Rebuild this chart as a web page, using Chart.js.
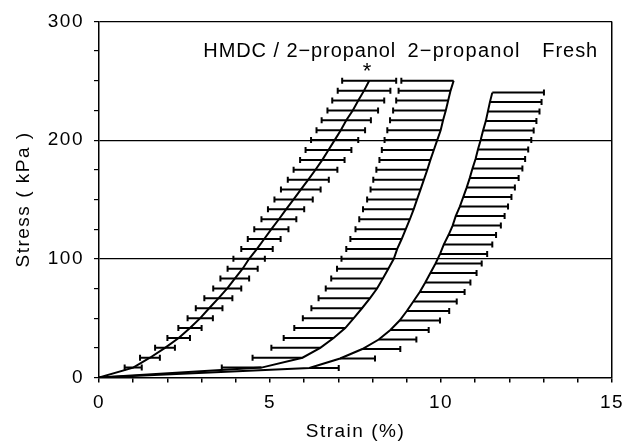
<!DOCTYPE html>
<html lang="en">
<head>
  <meta charset="UTF-8">
  <title>Stress - strain</title>
  <script src="https://cdn.jsdelivr.net/npm/chart.js"></script>
  <style>
    html, body { margin: 0; padding: 0; background: #fff; }
    #wrap { width: 635px; height: 443px; }
  </style>
</head>
<body>
<div id="wrap"><canvas id="grafico"></canvas></div>

<script>
  // HMDC / 2-propanol : symmetric horizontal error bars
  const hmdcStress = [0, 8.33, 16.67, 25, 33.33, 41.67, 50, 58.33, 66.67, 75, 83.33, 91.67, 100, 108.33, 116.67, 125,
    133.33, 141.67, 150, 158.33, 166.67, 175, 183.33, 191.67, 200, 208.33, 216.67, 225, 233.33, 241.67, 250];
  const hmdcStrain = [0, 1.00, 1.49, 1.93, 2.33, 2.66, 2.96, 3.22, 3.49, 3.75, 3.97, 4.20, 4.39, 4.62, 4.83, 5.04,
    5.26, 5.47, 5.69, 5.90, 6.12, 6.33, 6.53, 6.71, 6.89, 7.07, 7.23, 7.42, 7.58, 7.75, 7.90];
  const hmdcErr = [0, 0.25, 0.29, 0.29, 0.33, 0.34, 0.37, 0.39, 0.41, 0.41, 0.42, 0.44, 0.46, 0.46, 0.48, 0.50,
    0.51, 0.53, 0.56, 0.58, 0.60, 0.64, 0.65, 0.67, 0.69, 0.71, 0.72, 0.74, 0.76, 0.77, 0.79];

  // 2-propanol : error bars drawn to the left
  const propStress = [0, 8.33, 16.67, 25, 33.33, 41.67, 50, 58.33, 66.67, 75, 83.33, 91.67, 100, 108.33, 116.67, 125,
    133.33, 141.67, 150, 158.33, 166.67, 175, 183.33, 191.67, 200, 208.33, 216.67, 225, 233.33, 241.67, 250];
  const propStrain = [0, 4.75, 5.95, 6.47, 6.86, 7.20, 7.45, 7.69, 7.92, 8.13, 8.30, 8.46, 8.62, 8.72, 8.85, 8.97,
    9.09, 9.20, 9.30, 9.40, 9.50, 9.60, 9.69, 9.79, 9.89, 9.99, 10.06, 10.14, 10.21, 10.28, 10.37];
  const propErr = [0, 1.16, 1.46, 1.43, 1.46, 1.49, 1.49, 1.48, 1.50, 1.50, 1.51, 1.50, 1.53, 1.49, 1.50, 1.47,
    1.48, 1.48, 1.46, 1.46, 1.48, 1.49, 1.49, 1.52, 1.54, 1.56, 1.55, 1.54, 1.52, 1.52, 1.53];

  // Fresh : error bars drawn to the right
  const freshStress = [0, 8, 16, 24, 32, 40, 48, 56, 64, 72, 80, 88, 96, 104, 112, 120,
    128, 136, 144, 152, 160, 168, 176, 184, 192, 200, 208, 216, 224, 232, 240];
  const freshStrain = [0, 6.15, 7.05, 7.70, 8.18, 8.52, 8.79, 9.00, 9.19, 9.38, 9.54, 9.69, 9.84, 9.97, 10.08, 10.22,
    10.34, 10.43, 10.55, 10.65, 10.75, 10.84, 10.92, 11.01, 11.08, 11.16, 11.23, 11.31, 11.37, 11.43, 11.50];
  const freshErr = [0, 0.86, 1.02, 1.11, 1.10, 1.12, 1.18, 1.24, 1.27, 1.31, 1.32, 1.35, 1.35, 1.38, 1.42, 1.39,
    1.41, 1.43, 1.41, 1.41, 1.41, 1.43, 1.46, 1.45, 1.47, 1.48, 1.48, 1.48, 1.51, 1.51, 1.51];

  const seriesNames = ['HMDC / 2\u2212propanol', '2\u2212propanol', 'Fresh'];

  const FONT = '"Liberation Sans", Arial, Helvetica, sans-serif';

  const puntos = (xs, ys) => xs.map((x, i) => ({ x: x, y: ys[i] }));

  const serie = (nombre, xs, ys, err, lado) => ({
    label: nombre,
    data: puntos(xs, ys),
    errores: err,
    lado: lado,
    showLine: true,
    borderColor: '#000',
    borderWidth: 2,
    pointRadius: 0,
    tension: 0,
    fill: false
  });

  // the scanned lettering is loosely tracked
  const espaciado = {
    id: 'espaciado',
    beforeLayout(chart) { chart.ctx.letterSpacing = '1.5px'; },
    beforeDraw(chart) { chart.ctx.letterSpacing = '1.5px'; }
  };

  // horizontal error bars, drawn through the scales
  const barrasError = {
    id: 'barrasError',
    afterDatasetsDraw(chart) {
      const ctx = chart.ctx;
      const sx = chart.scales.x, sy = chart.scales.y;
      ctx.save();
      ctx.strokeStyle = '#000';
      ctx.lineWidth = 2;
      chart.data.datasets.forEach(ds => {
        ds.data.forEach((p, i) => {
          const e = ds.errores[i];
          if (!e) return;
          const y = sy.getPixelForValue(p.y);
          const x0 = ds.lado === 'left' || ds.lado === 'both' ? p.x - e : p.x;
          const x1 = ds.lado === 'right' || ds.lado === 'both' ? p.x + e : p.x;
          const a = sx.getPixelForValue(x0), b = sx.getPixelForValue(x1);
          ctx.beginPath();
          ctx.moveTo(a, y); ctx.lineTo(b, y);
          if (ds.lado !== 'right') { ctx.moveTo(a, y - 3); ctx.lineTo(a, y + 3); }
          if (ds.lado !== 'left') { ctx.moveTo(b, y - 3); ctx.lineTo(b, y + 3); }
          ctx.stroke();
        });
      });
      ctx.restore();
    }
  };

  // series names and the asterisk, placed in data coordinates (w = printed width)
  const etiquetas = [
    { text: seriesNames[0], x: 3.05, y: 270, align: 'left', size: 20, w: 192 },
    { text: seriesNames[1], x: 9.02, y: 270, align: 'left', size: 20, w: 112 },
    { text: seriesNames[2], x: 12.96, y: 270, align: 'left', size: 20, w: 55 },
    { text: '*', x: 7.84, y: 252, align: 'center', size: 22 }
  ];

  const textos = {
    id: 'textos',
    afterDraw(chart) {
      const ctx = chart.ctx;
      ctx.save();
      ctx.fillStyle = '#000';
      ctx.textBaseline = 'alphabetic';
      etiquetas.forEach(t => {
        ctx.font = t.size + 'px ' + FONT;
        ctx.textAlign = t.align;
        ctx.letterSpacing = '0px';
        if (t.w) {
          const natural = ctx.measureText(t.text).width;
          ctx.letterSpacing = ((t.w - natural) / (t.text.length - 1)) + 'px';
        }
        ctx.fillText(t.text, chart.scales.x.getPixelForValue(t.x), chart.scales.y.getPixelForValue(t.y));
      });
      ctx.restore();
    }
  };

  const ctx = document.getElementById('grafico').getContext('2d');
  new Chart(ctx, {
    type: 'scatter',
    data: {
      datasets: [
        serie(seriesNames[0], hmdcStrain, hmdcStress, hmdcErr, 'both'),
        serie(seriesNames[1], propStrain, propStress, propErr, 'left'),
        serie(seriesNames[2], freshStrain, freshStress, freshErr, 'right')
      ]
    },
    options: {
      responsive: true,
      maintainAspectRatio: false,
      animation: false,
      layout: { padding: { top: 19, right: 23, left: 0, bottom: 0 } },
      plugins: { legend: { display: false }, tooltip: { enabled: false } },
      scales: {
        x: {
          type: 'linear',
          min: 0, max: 15,
          afterFit: s => { s.height = 65.5; },
          border: { display: true, color: '#000', width: 1.5 },
          grid: {
            color: c => c.tick && c.tick.value === 15 ? '#000' : 'rgba(0,0,0,0)',
            lineWidth: 1.5,
            tickColor: '#000',
            tickLength: 5
          },
          ticks: {
            stepSize: 1, autoSkip: false, maxRotation: 0, padding: 9,
            color: '#000', font: { family: FONT, size: 19 },
            callback: v => v % 5 === 0 ? v : ''
          },
          title: {
            display: true, text: 'Strain (%)', color: '#000',
            font: { family: FONT, size: 19 }, padding: { top: 0, bottom: 0 }
          }
        },
        y: {
          type: 'linear',
          min: 0, max: 300,
          afterFit: s => { s.width = 99; },
          border: { display: true, color: '#000', width: 1.5 },
          grid: {
            color: c => c.tick && [100, 200, 300].includes(c.tick.value) ? '#000' : 'rgba(0,0,0,0)',
            lineWidth: 1.2,
            tickColor: '#000',
            tickLength: 5
          },
          ticks: {
            stepSize: 25, autoSkip: false, padding: 10,
            color: '#000', font: { family: FONT, size: 19 },
            callback: v => v % 100 === 0 ? v : ''
          },
          title: {
            display: true, text: 'Stress ( kPa )', color: '#000',
            font: { family: FONT, size: 19 }, padding: { top: 12, bottom: 0 }
          }
        }
      }
    },
    plugins: [espaciado, barrasError, textos]
  });
</script>
</body>
</html>
